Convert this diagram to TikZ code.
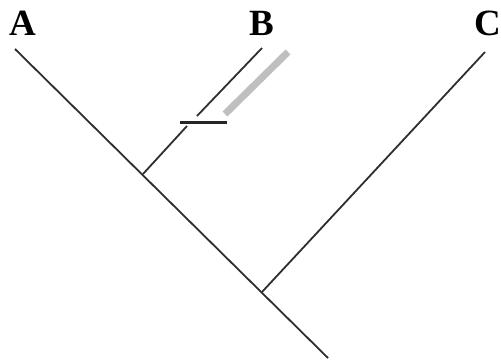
\documentclass[tikz,border=0pt]{standalone}
\usepackage{fontspec}
\setmainfont{Liberation Serif}
\begin{document}
\begin{tikzpicture}[x=1pt,y=-1pt,
  branch/.style={draw=black!82,line width=1.8pt},
  lbl/.style={font=\fontsize{37}{37}\bfseries\selectfont,inner sep=0pt,anchor=base},
  graybar/.style={draw=black!25,line width=7pt},
  tick/.style={draw=black!85,line width=3pt}]
\useasboundingbox (0,0) rectangle (501,362);
\node[lbl] (A) at (23,35) {A};
\node[lbl] (B) at (262,35) {B};
\node[lbl] (C) at (488,35) {C};
\coordinate (tA) at (15,49);
\coordinate (tB) at (262,48);
\coordinate (tC) at (485,52);
\coordinate (root) at (328,358);
\coordinate (nAB) at (143,174);
\coordinate (nC) at (262,292);
\coordinate (bLow) at (187,126);
\coordinate (bHigh) at (197,116);
\coordinate (barL) at (180,122);
\coordinate (barR) at (227,122);
\coordinate (gLow) at (225,114);
\coordinate (gHigh) at (288,52);
\draw[branch] (tA) -- (root);
\draw[branch] (nAB) -- (bLow);
\draw[branch] (bHigh) -- (tB);
\draw[branch] (nC) -- (tC);
\draw[tick] (barL) -- (barR);
\draw[graybar] (gLow) -- (gHigh);
\end{tikzpicture}
\end{document}
